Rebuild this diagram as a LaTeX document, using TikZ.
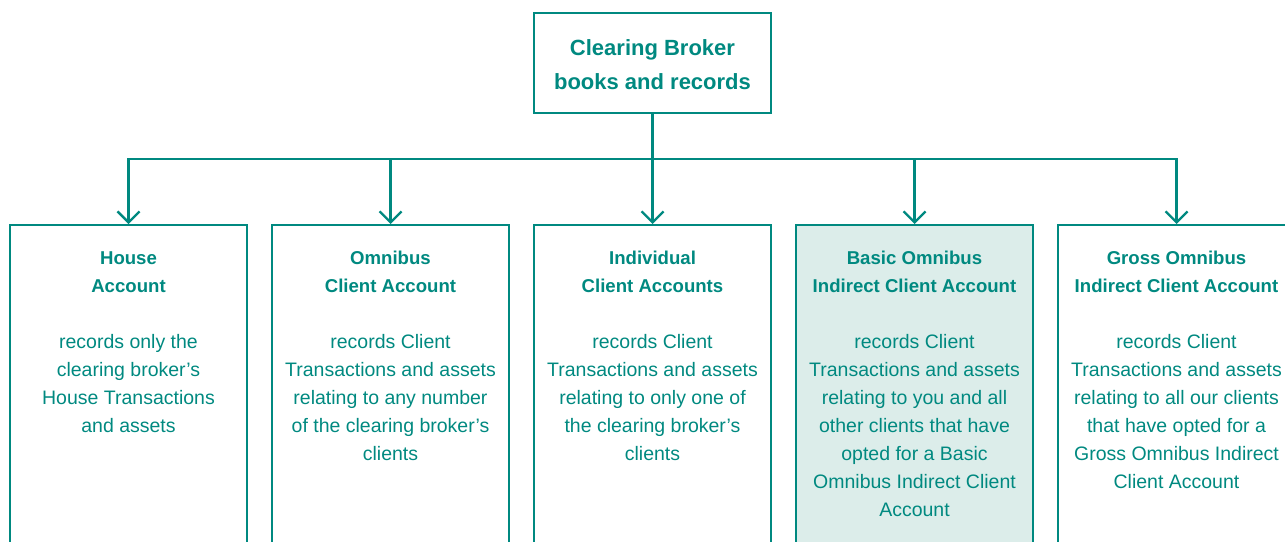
\documentclass[tikz,border=0pt]{standalone}
\usepackage{fontspec}
\setmainfont{Liberation Sans}
\usetikzlibrary{arrows.meta}
\definecolor{tealA}{RGB}{0,137,128}
\definecolor{tealF}{RGB}{220,237,234}
\begin{document}
\begin{tikzpicture}[x=1pt,y=1pt,
  box/.style={draw=tealA, line width=2pt, minimum width=237pt, inner sep=0pt},
  childbox/.style={box, anchor=north, minimum height=400pt},
  arr/.style={draw=tealA, line width=2.3pt, -{Straight Barb[length=11pt,width=22pt,line width=2.3pt]}},
  txt/.style={text=tealA, align=center, anchor=north, inner sep=0pt, font=\fontsize{19.5}{28}\selectfont}]
\clip (0,0) rectangle (1285,-541);
\useasboundingbox (0,0) rectangle (1285,-541);

\node[box, minimum height=100pt, text=tealA, align=center,
      font=\bfseries\fontsize{22}{34}\selectfont] (top) at (652.5,-63)
      {\rule{0pt}{20pt}Clearing Broker\\books and records};

\node[childbox] (b1) at (128.5,-224) {};
\node[childbox] (b2) at (390.5,-224) {};
\node[childbox] (b3) at (652.5,-224) {};
\node[childbox, fill=tealF] (b4) at (914.5,-224) {};
\node[childbox] (b5) at (1176.5,-224) {};

\newcommand{\hdf}{\bfseries\fontsize{18.6}{28}\selectfont}

\node[txt] (t1) at (128.5,-244.4) {\strut{\hdf House}\\{\hdf Account}\\[28pt]
  records only the\\clearing broker’s\\House Transactions\\and assets};
\node[txt] (t2) at (390.5,-244.4) {\strut{\hdf Omnibus}\\{\hdf Client Account}\\[28pt]
  records Client\\Transactions and assets\\relating to any number\\of the clearing broker’s\\clients};
\node[txt] (t3) at (652.5,-244.4) {\strut{\hdf Individual}\\{\hdf Client Accounts}\\[28pt]
  records Client\\Transactions and assets\\relating to only one of\\the clearing broker’s\\clients};
\node[txt] (t4) at (914.5,-244.4) {\strut{\hdf Basic Omnibus}\\{\hdf Indirect Client Account}\\[28pt]
  records Client\\Transactions and assets\\relating to you and all\\other clients that have\\opted for a Basic\\Omnibus Indirect Client\\Account};
\node[txt] (t5) at (1176.5,-244.4) {\strut{\hdf Gross Omnibus}\\{\hdf Indirect Client Account}\\[28pt]
  records Client\\Transactions and assets\\relating to all our clients\\that have opted for a\\Gross Omnibus Indirect\\Client Account};

\coordinate (j) at (652.5,-159);
\draw[arr] (top.south) -- (b3.north);
\draw[arr] (j) -| (b1.north);
\draw[arr] (j) -| (b2.north);
\draw[arr] (j) -| (b4.north);
\draw[arr] (j) -| (b5.north);
\end{tikzpicture}
\end{document}
